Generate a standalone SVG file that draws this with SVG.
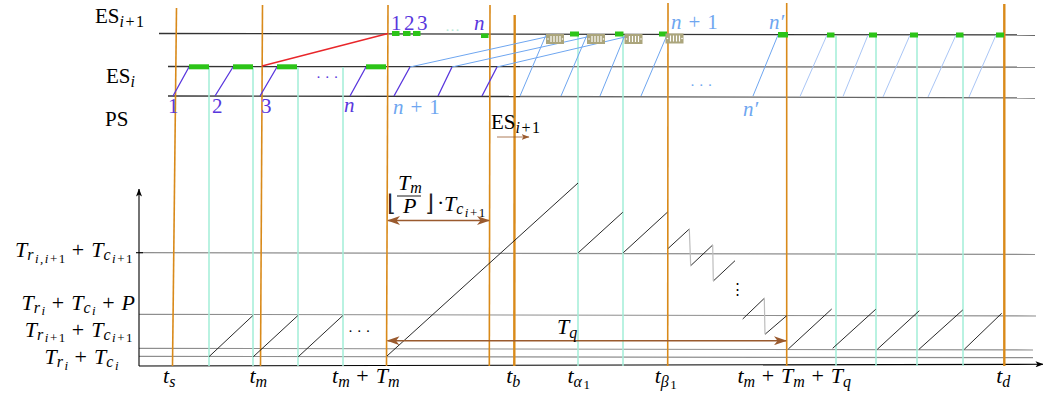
<svg xmlns="http://www.w3.org/2000/svg" width="1045" height="397" viewBox="0 0 1045 397">
<defs>
<style>
.or{stroke:#d98a1a;stroke-width:1.6;fill:none}
.orb{stroke:#d98a1a;stroke-width:2.4;fill:none}
.tl{stroke:#a3eed8;stroke-width:1.5;fill:none}
.hl{stroke:#333;stroke-width:1.3;fill:none}
.hl2{stroke:#666;stroke-width:1.3;fill:none}
.gl{stroke:#8e8e8e;stroke-width:1.2;fill:none}
.ax{stroke:#000;stroke-width:1.1;fill:none}
.db{stroke:#5936dd;stroke-width:1.3;fill:none}
.lb{stroke:#6ea6f0;stroke-width:1;fill:none}
.lb2{stroke:#aac6f6;stroke-width:1;fill:none}
.gr{fill:#2cc418}
.saw{stroke:#111;stroke-width:0.9;fill:none}
.drop{stroke:#bdbdbd;stroke-width:1.2;fill:none}
.br{stroke:#9a5a2e;stroke-width:1.5;fill:none}
.red{stroke:#e8262a;stroke-width:1.3;fill:none}
text{font-family:"Liberation Serif","Times New Roman",serif}
.m{font-size:21px}
.n{font-size:22px}
.i{font-style:italic}
.u{font-style:normal}
.s{font-size:16px;letter-spacing:1.5px}
.ss{font-size:13px;letter-spacing:1.5px}
.pu{fill:#5936dd}
.lbt{fill:#6ea6f0}
.dots{font-size:15px}
.fl{font-family:"DejaVu Sans",sans-serif;font-size:23px;font-weight:200;fill:#222}
</style>
<marker id="ah" viewBox="0 0 13 9" refX="12" refY="4.5" markerWidth="13" markerHeight="9" markerUnits="userSpaceOnUse" orient="auto-start-reverse"><path d="M0,0 L13,4.5 L0,9 L3.5,4.5 z" fill="#9a5a2e"/></marker>
<marker id="ahs" viewBox="0 0 8 6" refX="7.5" refY="3" markerWidth="8" markerHeight="6" markerUnits="userSpaceOnUse" orient="auto"><path d="M0,0 L8,3 L0,6 L2,3 z" fill="#9a5a2e"/></marker>
<marker id="axh" viewBox="0 0 8 6" refX="7.5" refY="3" markerWidth="8" markerHeight="6" markerUnits="userSpaceOnUse" orient="auto"><path d="M0,0 L8,3 L0,6 L2,3 z" fill="#000"/></marker>
<g id="box">
<rect x="0" y="0" width="18" height="10" fill="#aba57c"/>
<path d="M5,2V8M8,2V8M11,2V8M14,2V8" stroke="#fff" stroke-width="1.2"/>
<circle cx="2" cy="5" r="0.8" fill="#fff"/><circle cx="16.5" cy="5" r="0.8" fill="#fff"/>
</g>
</defs>
<rect width="1045" height="397" fill="#fff"/>

<g id="timelines">
<path class="hl" d="M159,33.5L1035,35"/>
<path class="hl" d="M168,66.5L520,66.7"/>
<path class="hl2" d="M520,66.7L1035,67.2"/>
<path class="hl" d="M168,96L520,96.5"/>
<path class="hl2" d="M520,96.5L1035,98"/>
</g>

<g id="axes">
<path class="gl" d="M139,252.7L1035,254.5"/>
<path class="gl" d="M139,314.3L1036,316"/>
<path class="gl" d="M139,348.3L1033,350"/>
<path class="gl" d="M139,356.3L1033,357.7"/>
<path class="ax" d="M139,366L1043,364.3" marker-end="url(#axh)"/>
<path class="ax" d="M139,366L139,189" marker-end="url(#axh)"/>
<path class="ax" d="M136,252.7H143"/>
</g>

<g id="teal-lines">
<path class="tl" d="M209,67V366M253,67V366M298,67V366M343,67V366"/>
<path class="tl" d="M578,35V366M623,35V366M836,36V366M876,36V366M917,36V366M963,36V366"/>
</g>

<g id="orange-lines">
<path class="or" d="M176.5,8L172.5,366"/>
<path class="or" d="M262.5,5L260.5,366"/>
<path class="or" d="M388,5L386.5,366"/>
<path class="or" d="M490,5L489.3,366"/>
<path class="orb" d="M514.7,15L514.3,366"/>
<path class="or" d="M668,3L667.7,366"/>
<path class="or" d="M786.7,3V366"/>
<path class="orb" d="M1004.3,4V366"/>
</g>

<g id="transfers">
<path class="db" d="M173,96L189,67M215,96L233,67M260,96L277,67M350,96L366,67M394,96L410,67M438,96L452,67M482,96L497,67"/>
<path class="lb" d="M410,67L546,37M452,67L587,37M497,67L625,37"/>
<path class="lb" d="M520,96L546,35M561,96L587,35M600,96L625,35M641,96L667,35M753,96L778,35"/>
<path class="lb2" d="M800,96.5L827,35M843,96.5L868,35M883,97L910,35M928,97L956,35M969,97L996,35"/>
<path class="red" d="M262,66L388,33.5"/>
</g>

<g id="slots">
<rect class="gr" x="189" y="64.3" width="20" height="5"/>
<rect class="gr" x="233" y="64.3" width="20" height="5"/>
<rect class="gr" x="277" y="64.3" width="20" height="5"/>
<rect class="gr" x="366" y="64.3" width="20" height="5"/>
<rect class="gr" x="392" y="31" width="7.5" height="5"/>
<rect class="gr" x="403" y="31" width="7.5" height="5"/>
<rect class="gr" x="413" y="31" width="7.5" height="5"/>
<rect class="gr" x="481" y="33.5" width="7.5" height="4.5"/>
<rect class="gr" x="570" y="31.5" width="9" height="5"/>
<rect class="gr" x="615" y="31.5" width="8.5" height="5"/>
<rect class="gr" x="659" y="31.5" width="8" height="5"/>
<rect class="gr" x="778" y="32" width="10" height="5.5"/>
<rect class="gr" x="827" y="32.5" width="7.5" height="5"/>
<rect class="gr" x="869" y="32.5" width="8" height="5"/>
<rect class="gr" x="910" y="32.5" width="8" height="5"/>
<rect class="gr" x="956" y="32.5" width="7.5" height="5"/>
<rect class="gr" x="996" y="32.5" width="8" height="5"/>
<use href="#box" x="546" y="34"/>
<use href="#box" x="587" y="34"/>
<use href="#box" x="624.5" y="34"/>
<use href="#box" x="665.5" y="33.5"/>
</g>

<g id="sawtooth">
<path class="saw" d="M209,356.7L252.7,315.7M253.3,356.7L297.7,315.7M298.3,356.7L342.7,315.7"/>
<path class="saw" d="M387,356L578,183"/>
<path class="saw" d="M578.3,252.7L622.7,212.3M623.3,252.7L667.3,212.3"/>
<path class="saw" d="M668.3,248.3L689.3,229M690.7,265.7L712.7,245M713.3,281L735,260.7M742.7,319L764.3,298.3M765,334.3L786.7,315.7"/>
<path class="drop" d="M689.3,229L690.7,265.7M712.7,245L713.3,281M764.3,298.3L765,334.3"/>
<path class="saw" d="M788.3,349L831.7,309M832.7,348.3L875.7,309.3M877.3,349.3L919.3,310.7M919,349.3L962.7,310M964.3,349.3L1001.7,313.3"/>
</g>

<g id="measures">
<path class="br" d="M388,220.5H489" marker-start="url(#ah)" marker-end="url(#ah)"/>
<path class="br" d="M387.5,340.7H786" marker-start="url(#ah)" marker-end="url(#ah)"/>
<path stroke="#9a5a2e" stroke-width="0.8" fill="none" d="M497,137H529" marker-end="url(#ahs)"/>
</g>

<g id="row-labels">
<text class="m" x="95" y="23">ES<tspan class="s i" dy="4">i</tspan><tspan class="s">+1</tspan></text>
<text class="m" x="106" y="83">ES<tspan class="s i" dy="4">i</tspan></text>
<text class="m" x="105" y="126">PS</text>
<text class="m" x="491" y="129">ES<tspan class="s i" dy="4">i</tspan><tspan class="s">+1</tspan></text>
</g>

<g id="slot-labels">
<text class="m pu" x="168" y="113">1</text>
<text class="m pu" x="212" y="113">2</text>
<text class="m pu" x="261" y="113">3</text>
<text class="m pu i" x="344" y="112">n</text>
<text class="m lbt" x="393" y="114"><tspan class="i">n</tspan><tspan dx="7">+</tspan><tspan dx="7">1</tspan></text>
<text class="m pu" x="391" y="30">1</text>
<text class="m pu" x="404" y="30">2</text>
<text class="m pu" x="417" y="30">3</text>
<text class="m pu i" x="474" y="30">n</text>
<text class="m lbt" x="671" y="29"><tspan class="i">n</tspan><tspan dx="7">+</tspan><tspan dx="7">1</tspan></text>
<text class="m lbt i" x="769" y="29">n′</text>
<text class="m lbt i" x="743" y="116">n′</text>
<text class="dots pu" x="316" y="82">· · ·</text>
<text class="dots" fill="#b5ead6" x="445" y="35">···</text>
<text class="dots lbt" x="690" y="90">· · ·</text>
<text class="dots" x="348" y="336">· · ·</text>
<text class="dots" x="737" y="294" text-anchor="middle">⋮</text>
</g>

<g id="value-labels">
<text class="n i" x="134" y="257" text-anchor="end">T<tspan class="s" dy="3">r</tspan><tspan class="ss" dy="3">i,i</tspan><tspan class="ss u">+1</tspan><tspan class="u" dy="-6" dx="5">+</tspan><tspan dx="7">T</tspan><tspan class="s" dy="3">c</tspan><tspan class="ss" dy="3">i</tspan><tspan class="ss u">+1</tspan></text>
<text class="n i" x="135" y="310" text-anchor="end">T<tspan class="s" dy="3">r</tspan><tspan class="ss" dy="2">i</tspan><tspan class="u" dy="-5" dx="5">+</tspan><tspan dx="7">T</tspan><tspan class="s" dy="3">c</tspan><tspan class="ss" dy="2">i</tspan><tspan class="u" dy="-5" dx="5">+</tspan><tspan dx="7">P</tspan></text>
<text class="n i" x="134" y="337" text-anchor="end">T<tspan class="s" dy="3">r</tspan><tspan class="ss" dy="2">i</tspan><tspan class="ss u">+1</tspan><tspan class="u" dy="-5" dx="5">+</tspan><tspan dx="7">T</tspan><tspan class="s" dy="3">c</tspan><tspan class="ss" dy="2">i</tspan><tspan class="ss u">+1</tspan></text>
<text class="n i" x="120" y="364" text-anchor="end">T<tspan class="s" dy="3">r</tspan><tspan class="ss" dy="3">i</tspan><tspan class="u" dy="-6" dx="5">+</tspan><tspan dx="7">T</tspan><tspan class="s" dy="3">c</tspan><tspan class="ss" dy="3">i</tspan></text>
</g>

<g id="time-labels">
<text class="n i" x="170" y="383" text-anchor="middle">t<tspan class="s" dy="4">s</tspan></text>
<text class="n i" x="259" y="383" text-anchor="middle">t<tspan class="s" dy="4">m</tspan></text>
<text class="n i" x="366.5" y="383" text-anchor="middle">t<tspan class="s" dy="4">m</tspan><tspan class="u" dy="-4" dx="5">+</tspan><tspan dx="7">T</tspan><tspan class="s" dy="4">m</tspan></text>
<text class="n i" x="514" y="383" text-anchor="middle">t<tspan class="s" dy="4">b</tspan></text>
<text class="n i" x="579.5" y="383" text-anchor="middle">t<tspan class="s" dy="4">α</tspan><tspan class="ss u" dy="2">1</tspan></text>
<text class="n i" x="666.5" y="383" text-anchor="middle">t<tspan class="s" dy="4">β</tspan><tspan class="ss u" dy="2">1</tspan></text>
<text class="n i" x="795" y="383" text-anchor="middle">t<tspan class="s" dy="4">m</tspan><tspan class="u" dy="-4" dx="5">+</tspan><tspan dx="7">T</tspan><tspan class="s" dy="4">m</tspan><tspan class="u" dy="-4" dx="5">+</tspan><tspan dx="7">T</tspan><tspan class="s" dy="4">q</tspan></text>
<text class="n i" x="1004" y="383" text-anchor="middle">t<tspan class="s" dy="4">d</tspan></text>
</g>

<g id="measure-labels">
<text class="n i" x="557" y="334">T<tspan class="s" dy="4">q</tspan></text>
<text class="fl" x="387" y="211">⌊</text>
<text class="n i" x="398" y="190">T<tspan class="s" dy="3">m</tspan></text>
<path d="M397,196H421" stroke="#000" stroke-width="0.9"/>
<text class="n i" x="403" y="213">P</text>
<text class="fl" x="425" y="211">⌋</text>
<text class="n" x="437" y="210">·</text>
<text class="n i" x="444" y="211">T<tspan class="s" dy="3">c</tspan><tspan class="ss" dy="3">i</tspan><tspan class="ss u">+1</tspan></text>
</g>
</svg>
